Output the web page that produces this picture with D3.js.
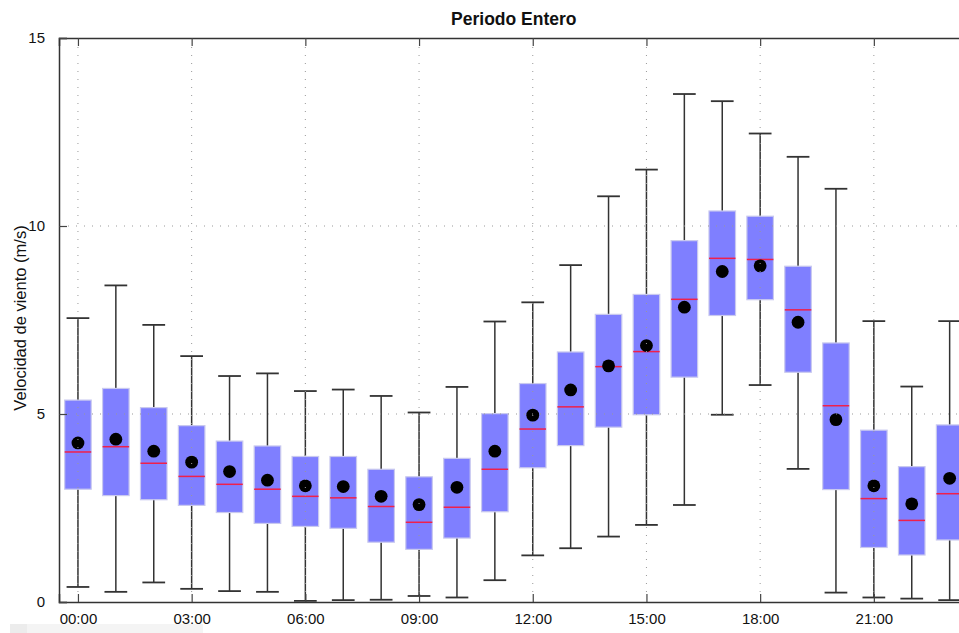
<!DOCTYPE html>
<meta charset="utf-8">
<script type="text/javascript" src="https://cdn.jsdelivr.net/npm/d3@7"></script>
<style>
    body {
        margin: 0;
        background: white;
    }
    text {
        font-family: "Liberation Sans", Arial, Helvetica, sans-serif;
        fill: #111;
    }
    .grid line {
        stroke: #999;
        stroke-width: 1;
        stroke-dasharray: 1, 7;
    }
</style>
<body>
<div id="chart"></div>
<script>

    // hourly wind speed boxes
    var hours = d3.range(0, 24)
    var whiskerHigh = [7.55, 8.42, 7.37, 6.54, 6.01, 6.08, 5.61, 5.65, 5.48, 5.04, 5.72, 7.46, 7.97, 8.96, 10.79, 11.50, 13.51, 13.32, 12.46, 11.84, 10.99, 7.47, 5.73, 7.47]
    var q3 = [5.37, 5.68, 5.17, 4.69, 4.28, 4.15, 3.87, 3.87, 3.53, 3.33, 3.82, 5.01, 5.81, 6.65, 7.65, 8.18, 9.61, 10.40, 10.26, 8.93, 6.89, 4.57, 3.60, 4.71]
    var median = [3.99, 4.13, 3.69, 3.34, 3.13, 3.00, 2.81, 2.77, 2.54, 2.12, 2.52, 3.53, 4.60, 5.19, 6.26, 6.66, 8.05, 9.14, 9.11, 7.77, 5.22, 2.75, 2.17, 2.88]
    var q1 = [3.00, 2.83, 2.72, 2.57, 2.38, 2.09, 2.01, 1.96, 1.59, 1.40, 1.70, 2.40, 3.57, 4.16, 4.65, 4.98, 5.98, 7.62, 8.04, 6.11, 2.99, 1.45, 1.25, 1.65]
    var whiskerLow = [0.40, 0.27, 0.52, 0.35, 0.29, 0.27, 0.03, 0.05, 0.06, 0.16, 0.12, 0.58, 1.24, 1.43, 1.74, 2.05, 2.58, 4.98, 5.77, 3.54, 0.25, 0.12, 0.09, 0.05]
    var mean = [4.23, 4.33, 4.01, 3.72, 3.47, 3.24, 3.09, 3.07, 2.81, 2.59, 3.05, 4.01, 4.97, 5.64, 6.28, 6.82, 7.84, 8.79, 8.94, 7.44, 4.85, 3.09, 2.61, 3.29]
    var xTicks = [0, 3, 6, 9, 12, 15, 18, 21]
    var xTickLabels = ["00:00", "03:00", "06:00", "09:00", "12:00", "15:00", "18:00", "21:00"]
    var yTicks = [0, 5, 10, 15]

    var data = hours.map((h, i) => {
        return {hour: h, hi: whiskerHigh[i], q3: q3[i], med: median[i], q1: q1[i], lo: whiskerLow[i], mean: mean[i]}
    })

    var W = 959, H = 633
    var plotLeft = 59, plotTop = 38, plotBottom = 602
    var hourPx = 37.9
    var plotRight = plotLeft + 24 * hourPx   // plot runs past the window edge

    var svg = d3.select("#chart").append("svg").attr("width", W).attr("height", H)

    var x = d3.scaleLinear().domain([-0.5, 23.5]).range([plotLeft, plotRight])
    var y = d3.scaleLinear().domain([0, 15]).range([plotBottom, plotTop])

    var boxW = x(0.35) - x(0)
    var capW = x(0.3) - x(0)

    // whiskers
    var g = svg.append("g")
    g.selectAll(".whisker").data(data).enter().append("line").attr("class", "whisker")
        .attr("x1", (d) => x(d.hour)).attr("x2", (d) => x(d.hour))
        .attr("y1", (d) => y(d.lo)).attr("y2", (d) => y(d.hi))
        .style("stroke", "#333").style("stroke-width", 1.5)
    g.selectAll(".capHi").data(data).enter().append("line").attr("class", "capHi")
        .attr("x1", (d) => x(d.hour) - capW).attr("x2", (d) => x(d.hour) + capW)
        .attr("y1", (d) => y(d.hi)).attr("y2", (d) => y(d.hi))
        .style("stroke", "#333").style("stroke-width", 1.8)
    g.selectAll(".capLo").data(data).enter().append("line").attr("class", "capLo")
        .attr("x1", (d) => x(d.hour) - capW).attr("x2", (d) => x(d.hour) + capW)
        .attr("y1", (d) => y(d.lo)).attr("y2", (d) => y(d.lo))
        .style("stroke", "#333").style("stroke-width", 1.8)

    // boxes
    g.selectAll(".box").data(data).enter().append("rect").attr("class", "box")
        .attr("x", (d) => x(d.hour) - boxW).attr("width", boxW * 2)
        .attr("y", (d) => y(d.q3)).attr("height", (d) => y(d.q1) - y(d.q3))
        .style("fill", "#7f7fff").style("stroke", "#c9c9ef").style("stroke-width", 1.2)
    g.selectAll(".median").data(data).enter().append("line").attr("class", "median")
        .attr("x1", (d) => x(d.hour) - boxW).attr("x2", (d) => x(d.hour) + boxW)
        .attr("y1", (d) => y(d.med)).attr("y2", (d) => y(d.med))
        .style("stroke", "#f0204a").style("stroke-width", 1.5)

    // dotted grid on top of the boxes
    var grid = svg.append("g").attr("class", "grid")
    grid.selectAll(".gx").data(xTicks).enter().append("line")
        .attr("x1", (d) => x(d)).attr("x2", (d) => x(d)).attr("y1", plotTop + 9).attr("y2", plotBottom - 9)
    grid.selectAll(".gy").data([5, 10]).enter().append("line")
        .attr("x1", plotLeft + 9).attr("x2", W).attr("y1", (d) => y(d)).attr("y2", (d) => y(d))

    // means
    g.selectAll(".mean").data(data).enter().append("circle").attr("class", "mean")
        .attr("cx", (d) => x(d.hour)).attr("cy", (d) => y(d.mean)).attr("r", 6.4)
        .style("fill", "black")

    // axes
    var xAxisB = d3.axisBottom(x).tickValues(xTicks).tickSize(-8).tickPadding(11).tickFormat((d, i) => xTickLabels[i])
    var xAxisT = d3.axisTop(x).tickValues(xTicks).tickSize(-8).tickFormat("")
    var yAxisL = d3.axisLeft(y).tickValues(yTicks).tickSize(-8).tickPadding(14)

    var ax = svg.append("g").attr("transform", "translate(0," + plotBottom + ")").call(xAxisB)
    var axT = svg.append("g").attr("transform", "translate(0," + plotTop + ")").call(xAxisT)
    var ay = svg.append("g").attr("transform", "translate(" + plotLeft + ",0)").call(yAxisL)
    ;[ax, axT, ay].forEach((a) => {
        a.select(".domain").style("stroke", "#333").style("stroke-width", 1.5)
        a.selectAll(".tick line").style("stroke", "#444").style("stroke-width", 1.2)
        a.selectAll("text").style("font-size", "15px").style("font-family", "Liberation Sans, Arial, sans-serif").style("fill", "#111")
    })

    svg.append("text").attr("x", (plotLeft + plotRight) / 2).attr("y", 25)
        .text("Periodo Entero").style("text-anchor", "middle").style("font-size", "17.5px").style("font-weight", "bold")
    svg.append("text").attr("transform", "rotate(-90)").attr("x", -318).attr("y", 26)
        .text("Velocidad de viento (m/s)").style("text-anchor", "middle").style("font-size", "16.5px")

    // faint strip at the bottom of the screenshot
    svg.append("rect").attr("x", 10).attr("y", 624).attr("width", 193).attr("height", 9).style("fill", "#f4f4f4")
    svg.append("rect").attr("x", 10).attr("y", 624).attr("width", 17).attr("height", 9).style("fill", "#ececec")

</script>
</body>
</html>
